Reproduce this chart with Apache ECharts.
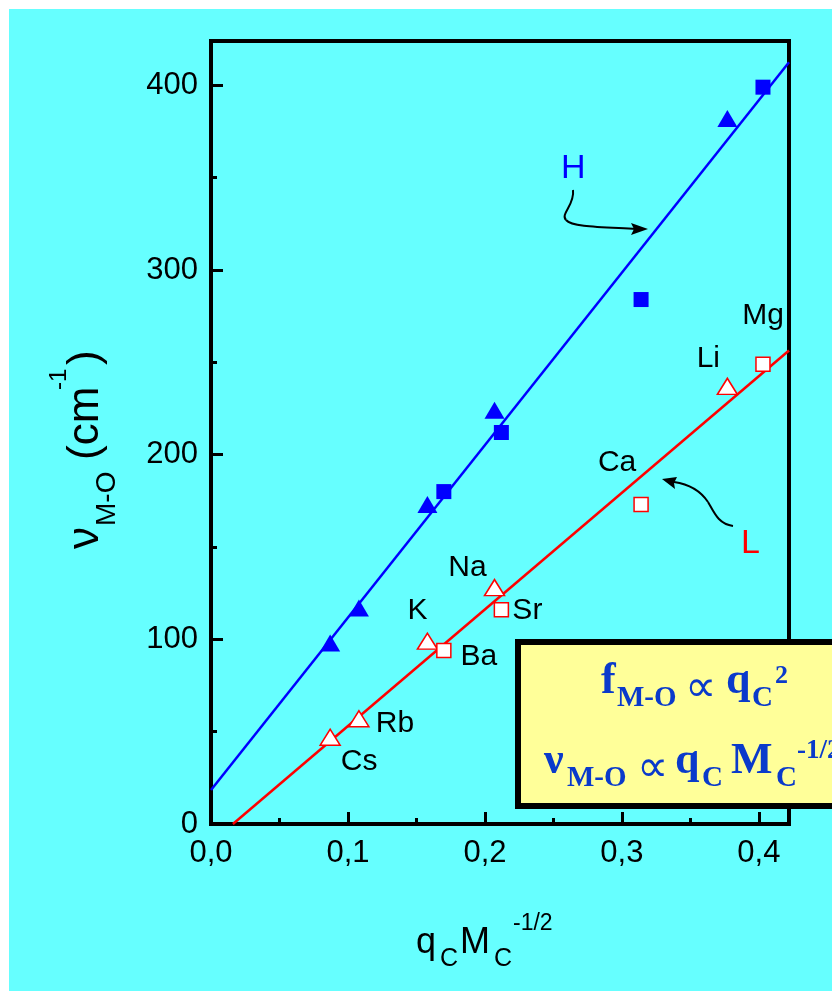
<!DOCTYPE html>
<html>
<head>
<meta charset="utf-8">
<script src="https://cdn.jsdelivr.net/npm/echarts@6.0.0/dist/echarts.min.js"></script>
<style>
html, body { margin: 0; padding: 0; background: #fff; }
#main { width: 832px; height: 991px; }
</style>
</head>
<body>
<div id="main"></div>
<script>
// H series (blue, filled)
var hTriX = [0.087, 0.108, 0.158, 0.207, 0.377];
var hTriY = [98, 117, 173, 224, 382];
var hSqX = [0.170, 0.212, 0.314, 0.403];
var hSqY = [180, 212, 284, 399];

// L series (red, open) with element names
var lTriNames = ['Cs', 'Rb', 'K', 'Na', 'Li'];
var lTriX = [0.087, 0.108, 0.158, 0.207, 0.377];
var lTriY = [47, 57, 99, 128, 237];
var lSqNames = ['Ba', 'Sr', 'Ca', 'Mg'];
var lSqX = [0.170, 0.212, 0.314, 0.403];
var lSqY = [94, 116, 173, 249];

// fitted straight lines (end points)
var fitH = [[0, 18.4], [0.422, 412.5]];
var fitL = [[0.016, 0], [0.422, 256.4]];

var X_MAX = 0.422, Y_MAX = 424;

// where each element name sits relative to its point (px)
var labelOffset = {
	Cs: [29, 25], Rb: [36, 5], K: [-10, -30], Na: [-27, -20], Li: [-19, -28],
	Ba: [35, 6], Sr: [26, 1], Ca: [-24, -42], Mg: [0, -48]
};

var SANS = '"Liberation Sans", Arial, sans-serif';
var SERIF = '"Liberation Serif", "DejaVu Serif", serif';
var PROP = '"DejaVu Sans", sans-serif';
var BLUE = '#0000ff', RED = '#ff0000', BOXBLUE = '#0a3acb';

function pts(xs, ys) {
	return xs.map(function(x, i) { return [x, ys[i]]; });
}
function namedPts(names, xs, ys) {
	return names.map(function(n, i) {
		return { name: n, value: [xs[i], ys[i]], label: { offset: labelOffset[n] } };
	});
}

// one run of text, placed by its baseline
function piece(str, x, base, fs, family, weight, color) {
	return {
		type: 'text', x: x, y: base - 0.34 * fs, z: 100,
		style: {
			text: str, font: weight + ' ' + fs + 'px ' + family, fill: color,
			align: 'left', verticalAlign: 'middle', textAlign: 'left', textVerticalAlign: 'middle'
		}
	};
}

// the "proportional to" sign, placed by its centre
function prop(x, cy) {
	return {
		type: 'text', x: x, y: cy, z: 100,
		style: {
			text: '\u221d', font: 'normal 44px ' + PROP, fill: BOXBLUE,
			align: 'left', verticalAlign: 'middle', textAlign: 'left', textVerticalAlign: 'middle'
		}
	};
}

// one cubic segment of an arrow
function curve(x1, y1, c1x, c1y, c2x, c2y, x2, y2) {
	return {
		type: 'bezierCurve', z: 100,
		shape: { x1: x1, y1: y1, cpx1: c1x, cpy1: c1y, cpx2: c2x, cpy2: c2y, x2: x2, y2: y2 },
		style: { stroke: '#000', lineWidth: 2, fill: null }
	};
}

function axisLbl(v) { return v.toFixed(1).replace('.', ','); }

var myChart = echarts.init(document.getElementById('main'));

var tickStyle = { color: '#000', width: 3 };

var option = {
	backgroundColor: '#66ffff',
	animation: false,
	grid: {
		left: 211, right: 43, top: 41, bottom: 167,
		show: true, borderColor: '#000', borderWidth: 4, backgroundColor: 'transparent'
	},
	xAxis: [{
		type: 'value', position: 'bottom', min: 0, max: X_MAX, interval: 0.1,
		axisLine: { lineStyle: { color: '#000', width: 4 } },
		axisTick: { inside: true, length: 12, lineStyle: tickStyle },
		axisLabel: { formatter: axisLbl, showMaxLabel: false, margin: 14,
			fontSize: 31, fontFamily: SANS, color: '#000' },
		splitLine: { show: false }
	}, {
		type: 'value', position: 'bottom', min: 0, max: X_MAX, interval: 0.05,
		axisLine: { show: false },
		axisTick: { inside: true, length: 6, lineStyle: tickStyle },
		axisLabel: { show: false },
		splitLine: { show: false }
	}],
	yAxis: [{
		type: 'value', position: 'left', min: 0, max: Y_MAX, interval: 100,
		axisLine: { lineStyle: { color: '#000', width: 4 } },
		axisTick: { inside: true, length: 12, lineStyle: tickStyle },
		axisLabel: { showMaxLabel: false, margin: 13,
			fontSize: 31, fontFamily: SANS, color: '#000' },
		splitLine: { show: false }
	}, {
		type: 'value', position: 'left', min: 0, max: Y_MAX, interval: 50,
		axisLine: { show: false },
		axisTick: { inside: true, length: 6, lineStyle: tickStyle },
		axisLabel: { show: false },
		splitLine: { show: false }
	}],
	series: [
		{ type: 'line', data: fitH, showSymbol: false, lineStyle: { color: BLUE, width: 2.5 }, z: 2 },
		{ type: 'line', data: fitL, showSymbol: false, lineStyle: { color: RED, width: 2.5 }, z: 2 },
		{ type: 'scatter', data: pts(hTriX, hTriY), symbol: 'triangle', symbolSize: [20, 17],
			itemStyle: { color: BLUE, opacity: 1 }, z: 3 },
		{ type: 'scatter', data: pts(hSqX, hSqY), symbol: 'rect', symbolSize: 15,
			itemStyle: { color: BLUE, opacity: 1 }, z: 3 },
		{ type: 'scatter', data: namedPts(lTriNames, lTriX, lTriY), symbol: 'triangle', symbolSize: [20, 16],
			itemStyle: { color: '#fff', borderColor: RED, borderWidth: 1.5, opacity: 1 }, z: 3,
			label: { show: true, position: 'inside', formatter: '{b}', fontSize: 30, fontFamily: SANS, color: '#000' } },
		{ type: 'scatter', data: namedPts(lSqNames, lSqX, lSqY), symbol: 'rect', symbolSize: 14,
			itemStyle: { color: '#fff', borderColor: RED, borderWidth: 1.5, opacity: 1 }, z: 3,
			label: { show: true, position: 'inside', formatter: '{b}', fontSize: 30, fontFamily: SANS, color: '#000' } }
	],
	graphic: [
		// white margin of the slide
		{ type: 'rect', shape: { x: 0, y: 0, width: 832, height: 9 }, style: { fill: '#fff' }, z: 200 },
		{ type: 'rect', shape: { x: 0, y: 0, width: 9, height: 991 }, style: { fill: '#fff' }, z: 200 },

		// y axis title, rotated
		{
			type: 'group', x: 101, y: 549, rotation: Math.PI / 2, z: 100,
			children: [
				piece('\u03bd', 0, 0, 44, SANS, 'normal', '#000'),
				piece('M-O', 23, 16, 28, SANS, 'normal', '#000'),
				piece('(cm', 89, 0, 44, SANS, 'normal', '#000'),
				piece('-1', 159, -33, 24, SANS, 'normal', '#000'),
				piece(')', 184, 0, 44, SANS, 'normal', '#000')
			]
		},

		// x axis title
		piece('q', 416, 955, 36, SANS, 'normal', '#000'),
		piece('C', 440, 968, 25, SANS, 'normal', '#000'),
		piece('M', 460, 955, 36, SANS, 'normal', '#000'),
		piece('C', 494, 968, 25, SANS, 'normal', '#000'),
		piece('-1/2', 513, 931, 23, SANS, 'normal', '#000'),

		// H / L line tags and their arrows
		piece('H', 561, 180, 34, SANS, 'normal', BLUE),
		piece('L', 741, 555, 34, SANS, 'normal', RED),
		curve(573, 190, 575, 205, 560, 214, 566, 220),
		curve(566, 220, 572, 227, 600, 227, 636, 229),
		{ type: 'polygon', z: 100, shape: { points: [[648, 229], [631, 223], [634, 229], [631, 235]] },
			style: { fill: '#000' } },
		curve(733, 526, 718, 524, 714, 512, 708, 502),
		curve(708, 502, 700, 490, 688, 484, 674, 482),
		{ type: 'polygon', z: 100, shape: { points: [[662, 479], [677, 477], [674, 483], [675, 489]] },
			style: { fill: '#000' } },

		// formula box
		{ type: 'rect', z: 100, shape: { x: 518, y: 642, width: 400, height: 164 },
			style: { fill: '#ffff99', stroke: '#000', lineWidth: 6 } },
		piece('f', 601, 697, 44, SERIF, 'bold', BOXBLUE),
		piece('M-O', 617, 708, 29, SERIF, 'bold', BOXBLUE),
		prop(685, 690),
		piece('q', 726, 697, 44, SERIF, 'bold', BOXBLUE),
		piece('C', 752, 708, 29, SERIF, 'bold', BOXBLUE),
		piece('2', 775, 685, 26, SERIF, 'bold', BOXBLUE),
		piece('\u03bd', 544, 777, 44, SERIF, 'bold', BOXBLUE),
		piece('M-O', 567, 788, 29, SERIF, 'bold', BOXBLUE),
		prop(637, 770),
		piece('q', 675, 777, 44, SERIF, 'bold', BOXBLUE),
		piece('C', 702, 788, 29, SERIF, 'bold', BOXBLUE),
		piece('M', 731, 777, 44, SERIF, 'bold', BOXBLUE),
		piece('C', 776, 788, 29, SERIF, 'bold', BOXBLUE),
		piece('-1/2', 797, 760, 27, SERIF, 'bold', BOXBLUE)
	]
};

myChart.setOption(option);
</script>
</body>
</html>
